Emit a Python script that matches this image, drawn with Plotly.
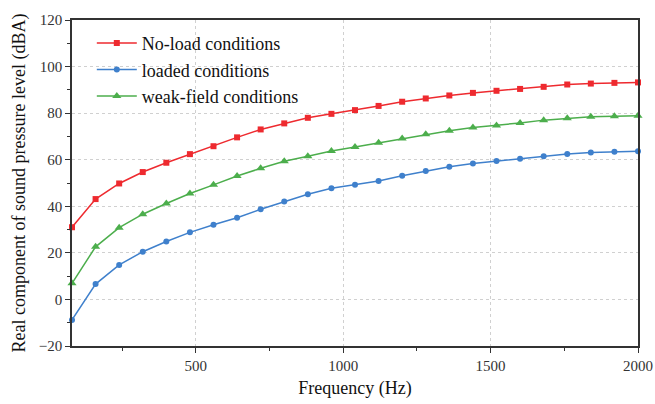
import plotly.graph_objects as go

freq = [80, 160, 240, 320, 400, 480, 560, 640, 720, 800, 880, 960, 1040,
        1120, 1200, 1280, 1360, 1440, 1520, 1600, 1680, 1760, 1840, 1920, 2000]
no_load = [31.0, 43.1, 49.8, 54.7, 58.7, 62.4, 65.8, 69.6, 73.0, 75.6, 78.0, 79.7, 81.3,
           83.1, 84.9, 86.3, 87.6, 88.7, 89.6, 90.4, 91.3, 92.3, 92.7, 93.0, 93.2]
loaded = [-8.8, 6.6, 14.8, 20.5, 24.9, 28.8, 32.1, 35.1, 38.7, 42.1, 45.2, 47.7, 49.3,
          50.9, 53.1, 55.1, 57.0, 58.4, 59.4, 60.4, 61.5, 62.5, 63.1, 63.4, 63.6]
weak_field = [6.9, 22.6, 30.8, 36.6, 41.2, 45.5, 49.2, 53.0, 56.3, 59.3, 61.5, 63.7, 65.5,
              67.3, 69.1, 70.9, 72.4, 73.8, 74.7, 75.8, 77.0, 77.8, 78.4, 78.7, 78.9]

series = [
    ("No-load conditions", no_load, "#ee2a2f", "square", 6),
    ("loaded conditions", loaded, "#3f80cc", "circle", 6),
    ("weak-field conditions", weak_field, "#4cae4c", "triangle-up", 8),
]

FONT = "Liberation Serif, Times New Roman, serif"

fig = go.Figure()
for name, vals, color, sym, msize in series:
    fig.add_trace(go.Scatter(
        x=freq, y=vals, name=name, mode="lines+markers",
        line=dict(color=color, width=1.5),
        marker=dict(symbol=sym, size=msize, color=color),
        cliponaxis=False,
    ))

axis_common = dict(
    showline=True, linecolor="#333333", linewidth=1.5, mirror=True,
    ticks="outside", ticklen=5, tickwidth=1.2, tickcolor="#333333",
    showgrid=True, gridcolor="#d0d0d0", griddash="dot", gridwidth=1,
    zeroline=False, automargin=False,
    tickfont=dict(family=FONT, size=15, color="#333333"),
)

fig.update_xaxes(
    range=[80, 2000], tickvals=[500, 1000, 1500, 2000],
    minor=dict(tickvals=[250, 750, 1250, 1750], ticks="outside", ticklen=3,
               tickcolor="#333333", showgrid=False),
    title=dict(text="Frequency (Hz)", font=dict(family=FONT, size=18, color="#111111"),
               standoff=9),
    **axis_common,
)
fig.update_yaxes(
    range=[-20, 120], dtick=20, tick0=0,
    minor=dict(dtick=10, ticks="outside", ticklen=3, tickcolor="#333333", showgrid=False),
    title=dict(text="Real component of sound pressure level (dBA)",
               font=dict(family=FONT, size=18, color="#111111"), standoff=8),
    **axis_common,
)

fig.update_layout(
    width=655, height=404,
    margin=dict(l=72, r=17, t=20, b=58),
    paper_bgcolor="white", plot_bgcolor="white",
    font=dict(family=FONT),
    showlegend=True,
    legend=dict(x=0.035, y=0.985, xanchor="left", yanchor="top",
                bgcolor="rgba(0,0,0,0)", borderwidth=0,
                font=dict(family=FONT, size=18, color="#111111"),
                tracegroupgap=0, itemwidth=40),
)

fig.write_html("out.html")
